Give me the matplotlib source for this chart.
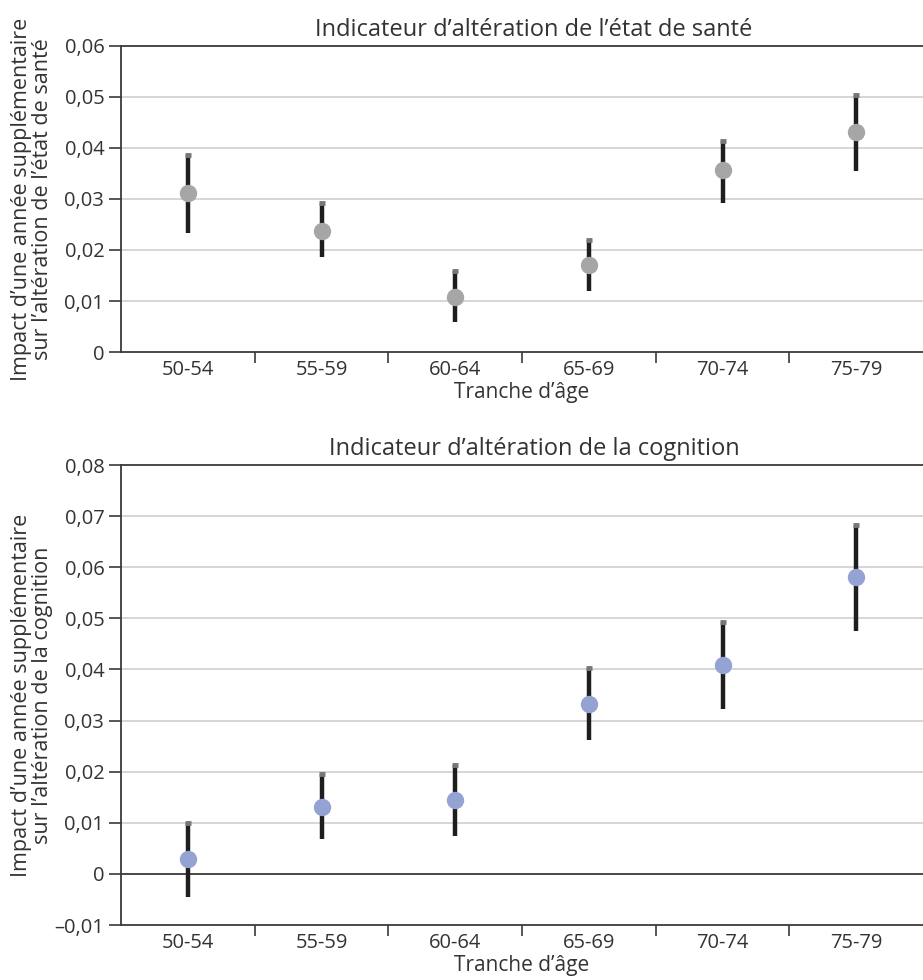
import matplotlib
matplotlib.use("Agg")
import matplotlib.pyplot as plt
import numpy as np

plt.rcParams['font.family'] = ['Open Sans', 'DejaVu Sans']

# data
tranches = ['50-54', '55-59', '60-64', '65-69', '70-74', '75-79']

sante_val = [0.0312, 0.0238, 0.0108, 0.0171, 0.0356, 0.0431]
sante_haut = [0.0386, 0.0292, 0.0159, 0.0220, 0.0414, 0.0503]
sante_bas = [0.0234, 0.0187, 0.0059, 0.0120, 0.0293, 0.0355]

cogn_val = [0.0030, 0.0130, 0.0144, 0.0333, 0.0409, 0.0580]
cogn_haut = [0.0100, 0.0196, 0.0213, 0.0403, 0.0493, 0.0683]
cogn_bas = [-0.0046, 0.0068, 0.0074, 0.0262, 0.0323, 0.0476]

sante_ticks = [0, 0.01, 0.02, 0.03, 0.04, 0.05, 0.06]
sante_tick_labels = ['0', '0,01', '0,02', '0,03', '0,04', '0,05', '0,06']
cogn_ticks = [-0.01, 0, 0.01, 0.02, 0.03, 0.04, 0.05, 0.06, 0.07, 0.08]
cogn_tick_labels = ['\u20130,01', '0', '0,01', '0,02', '0,03', '0,04', '0,05',
                    '0,06', '0,07', '0,08']

txt = '#333333'
dark = '#3a3a3a'
grid = '#cfcfcf'


def panel(ax, val, haut, bas, ticks, labels, color, title, ylabel):
    x = np.arange(len(tranches))
    ax.vlines(x, bas, haut, color='#1e1e1e', lw=3.2, zorder=3)
    ax.plot(x, haut, ls='none', marker='_', ms=5, mew=3.5, color='#777777', zorder=4)
    ax.plot(x, val, ls='none', marker='o', ms=11.5, color=color, mec=color, zorder=5)

    ax.set_xlim(-0.5, len(tranches) - 0.5)
    ax.set_ylim(ticks[0], ticks[-1])
    ax.set_yticks(ticks)
    ax.set_yticklabels(labels)
    for t in ticks[1:-1]:
        if t == 0:
            ax.axhline(0, color=dark, lw=1.3, zorder=2)
        else:
            ax.axhline(t, color=grid, lw=1.2, zorder=1)

    ax.set_xticks(x)
    ax.set_xticklabels(tranches)
    ax.set_xticks(np.arange(0.5, len(tranches) - 0.5, 1), minor=True)
    ax.tick_params(axis='x', which='major', length=0, pad=6, labelsize=14.5, labelcolor=txt)
    ax.tick_params(axis='x', which='minor', length=8, width=1.2, color=dark)
    ax.tick_params(axis='y', length=9, width=1.2, color=dark, pad=3, labelsize=14.5,
                   labelcolor=txt)

    for s in ['left', 'bottom', 'top']:
        ax.spines[s].set_color(dark)
        ax.spines[s].set_linewidth(1.3)
    ax.spines['right'].set_visible(False)

    ax.set_xlabel("Tranche d\u2019\u00e2ge", fontsize=15, color=txt, labelpad=1)
    ax.set_ylabel(ylabel, fontsize=15.5, color=txt, linespacing=1.0)
    ax.yaxis.set_label_coords(-0.085, 0.5)
    ax.set_title(title, fontsize=17, color=txt, x=0.515, pad=7)


fig = plt.figure(figsize=(9.23, 9.8), dpi=100)
ax1 = fig.add_axes([0.1311, 0.6408, 0.8689, 0.3123])
ax2 = fig.add_axes([0.1311, 0.0561, 0.8689, 0.4694])

panel(ax1, sante_val, sante_haut, sante_bas, sante_ticks, sante_tick_labels, '#a6a6a6',
      "Indicateur d\u2019alt\u00e9ration de l\u2019\u00e9tat de sant\u00e9",
      "Impact d\u2019une ann\u00e9e suppl\u00e9mentaire\nsur l\u2019alt\u00e9ration de l\u2019\u00e9tat de sant\u00e9")
panel(ax2, cogn_val, cogn_haut, cogn_bas, cogn_ticks, cogn_tick_labels, '#95a3d4',
      "Indicateur d\u2019alt\u00e9ration de la cognition",
      "Impact d\u2019une ann\u00e9e suppl\u00e9mentaire\nsur l\u2019alt\u00e9ration de la cognition")

fig.savefig('out.png', dpi=100)
